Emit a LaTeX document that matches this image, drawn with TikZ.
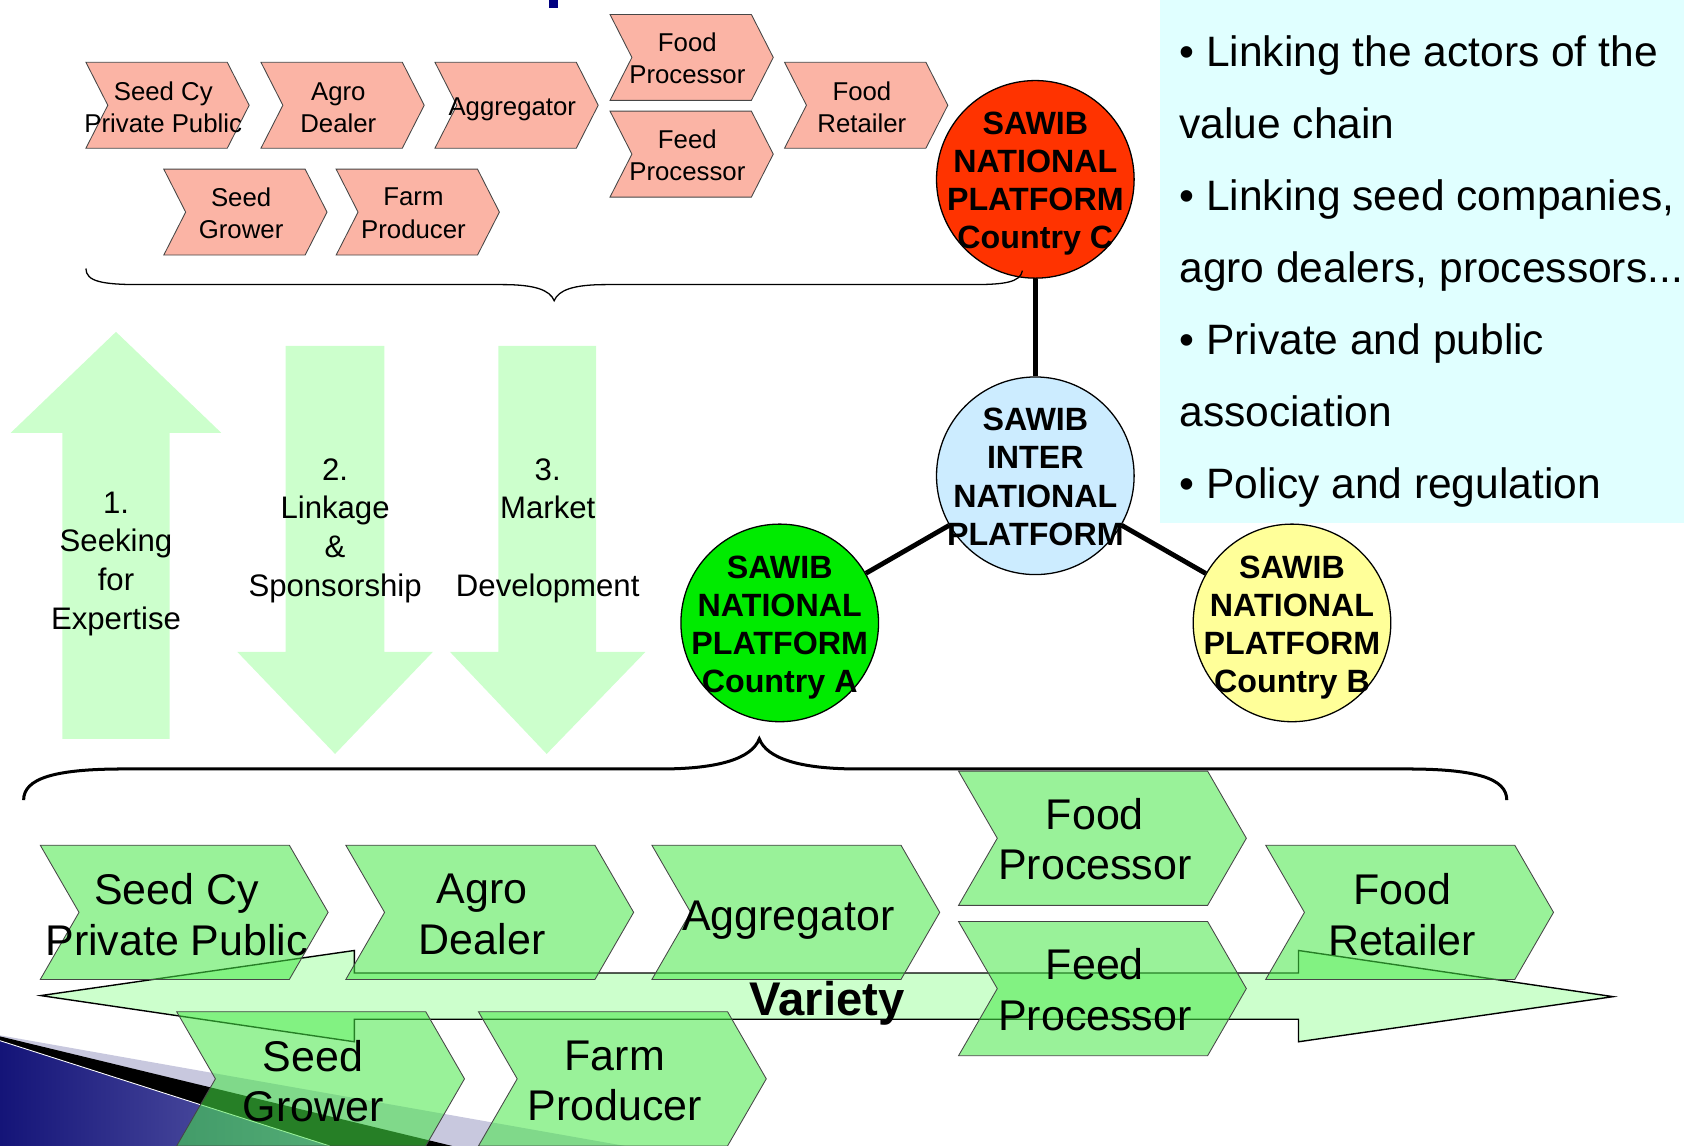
\documentclass[tikz,border=0pt]{standalone}
\usepackage{fontspec}
\setmainfont{Liberation Sans}
\usetikzlibrary{shapes.symbols}

\begin{document}
\begin{tikzpicture}[x=1pt,y=1pt,yscale=-1,
    chevtop/.style={shape=signal, signal from=west, signal to=east, signal pointer angle=126, minimum width=152, minimum height=80, inner sep=0pt, draw={rgb, 255:red, 70; green, 70; blue, 70}, line width=0.8, fill={rgb, 255:red, 251; green, 180; blue, 165}},
    chevbot/.style={chevtop, signal pointer angle=120, minimum width=268, minimum height=125, fill={rgb, 255:red, 70; green, 232; blue, 70}, fill opacity=0.55},
    toptxt/.style={align=center, inner sep=0pt, font=\fontsize{24}{30}\selectfont},
    bottxt/.style={align=center, inner sep=0pt, font=\fontsize{40}{47}\selectfont},
    platform/.style={circle, draw, line width=1.2, minimum size=184, inner sep=0pt},
    plattxt/.style={align=center, inner sep=0pt, font=\fontsize{30}{35.5}\selectfont\bfseries},
    arrowtxt/.style={align=center, inner sep=0pt, font=\fontsize{29}{36}\selectfont},
    blockarrow/.style={fill={rgb, 255:red, 204; green, 255; blue, 204}},
    link/.style={line width=4.5},
  ]
  \useasboundingbox (0,0) rectangle (1568,1067);
  %Shape: Rectangle [title fragment]
  \fill[fill={rgb, 255:red, 0; green, 0; blue, 128}] (511,0) rectangle (520,7);
  %Shape: Rectangle [text panel]
  \fill[fill={rgb, 255:red, 224; green, 255; blue, 255}] (1080,0) rectangle (1568,487);
  \node[anchor=north west, align=left, inner sep=0pt, font=\fontsize{39.6}{67}\selectfont] (bullets) at (1098,33) {\textbullet\ Linking the actors of the\\value chain\\\textbullet\ Linking seed companies,\\agro dealers, processors...\\\textbullet\ Private and public\\association\\\textbullet\ Policy and regulation};

  %Shape: Polygon [corner swoosh]
  \fill[fill={rgb, 255:red, 200; green, 200; blue, 222}] (0,964) -- (582,1067) -- (0,1067) -- cycle;
  \fill[black] (0,965) -- (421,1067) -- (0,1067) -- cycle;
  \shade[left color={rgb, 255:red, 20; green, 20; blue, 120}, right color={rgb, 255:red, 100; green, 100; blue, 175}] (0,969) -- (307,1067) -- (0,1067) -- cycle;
  \draw[white, line width=0.8] (0,969) -- (307,1067);

  %Shape: Block Arrows
  \fill[blockarrow] (58,688) -- (58,403) -- (10,403) -- (108,309) -- (206,403) -- (158,403) -- (158,688) -- cycle;
  \fill[blockarrow] (266,322) -- (358,322) -- (358,607) -- (403,607) -- (312,702) -- (221,607) -- (266,607) -- cycle;
  \fill[blockarrow] (464,322) -- (555,322) -- (555,607) -- (601,607) -- (509,702) -- (419,607) -- (464,607) -- cycle;
  \node[arrowtxt] (expertise) at (108,525) {1.\\Seeking\\for\\Expertise};
  \node[arrowtxt] (linkage) at (312,494) {2.\\Linkage\\\&\\Sponsorship};
  \node[arrowtxt] (market) at (510,494) {3.\\Market\\\mbox{}\\Development};

  %Shape: Left Right Arrow [variety]
  \draw[blockarrow, line width=1.3] (38,927) -- (330,885) -- (330,906) -- (1209,906) -- (1209,885) -- (1502,928) -- (1209,970) -- (1209,949) -- (330,949) -- (330,970) -- cycle;

  %Shape: Chevrons [upper chain]
  \node[chevtop] (tSeedCy) at (156,98) {};
  \node[chevtop] (tAgro) at (319,98) {};
  \node[chevtop] (tAggr) at (481,98) {};
  \node[chevtop] (tFoodProc) at (644,53.5) {};
  \node[chevtop] (tFeedProc) at (644,143.5) {};
  \node[chevtop] (tRetail) at (806.5,98) {};
  \node[chevtop] (tGrower) at (228.5,197.5) {};
  \node[chevtop] (tFarm) at (389,197.5) {};
  \node[toptxt] (tSeedCyL) at ([xshift=-4pt,yshift=2pt]tSeedCy.center) {Seed Cy\\Private Public};
  \node[toptxt] (tAgroL) at ([xshift=-4pt,yshift=2pt]tAgro.center) {Agro\\Dealer};
  \node[toptxt] (tAggrL) at ([xshift=-4pt,yshift=4pt]tAggr.center) {Aggregator};
  \node[toptxt] (tFoodProcL) at ([xshift=-4pt,yshift=1pt]tFoodProc.center) {Food\\Processor};
  \node[toptxt] (tFeedProcL) at ([xshift=-4pt,yshift=1pt]tFeedProc.center) {Feed\\Processor};
  \node[toptxt] (tRetailL) at ([xshift=-4pt,yshift=2pt]tRetail.center) {Food\\Retailer};
  \node[toptxt] (tGrowerL) at ([xshift=-4pt,yshift=1pt]tGrower.center) {Seed\\Grower};
  \node[toptxt] (tFarmL) at ([xshift=-4pt,yshift=1pt]tFarm.center) {Farm\\Producer};

  %Shape: Chevrons [lower chain]
  \node[chevbot] (bSeedCy) at (171.5,849.5) {};
  \node[chevbot] (bAgro) at (456,849.5) {};
  \node[chevbot] (bAggr) at (741,849.5) {};
  \node[chevbot] (bFoodProc) at (1026.5,780.5) {};
  \node[chevbot] (bFeedProc) at (1026.5,920.5) {};
  \node[chevbot] (bRetail) at (1312.5,849.5) {};
  \node[chevbot] (bGrower) at (298.5,1004.5) {};
  \node[chevbot] (bFarm) at (579.5,1004.5) {};
  \node[bottxt] (bSeedCyL) at ([xshift=-7pt,yshift=2pt]bSeedCy.center) {Seed Cy\\Private Public};
  \node[bottxt] (bAgroL) at ([xshift=-7pt,yshift=2pt]bAgro.center) {Agro\\Dealer};
  \node[bottxt] (bAggrL) at ([xshift=-7pt,yshift=7pt]bAggr.center) {Aggregator};
  \node[bottxt] (bFoodProcL) at ([xshift=-7pt,yshift=1pt]bFoodProc.center) {Food\\Processor};
  \node[bottxt] (bFeedProcL) at ([xshift=-7pt,yshift=1pt]bFeedProc.center) {Feed\\Processor};
  \node[bottxt] (bRetailL) at ([xshift=-7pt,yshift=2pt]bRetail.center) {Food\\Retailer};
  \node[bottxt] (bGrowerL) at ([xshift=-7pt,yshift=2pt]bGrower.center) {Seed\\Grower};
  \node[bottxt] (bFarmL) at ([xshift=-7pt,yshift=2pt]bFarm.center) {Farm\\Producer};
  \node[inner sep=0pt, font=\fontsize{44}{50}\selectfont\bfseries] (variety) at (770,934.5) {Variety};

  %Shape: Circles [platforms]
  \node[platform, fill={rgb, 255:red, 255; green, 51; blue, 0}] (platC) at (964,167) {};
  \node[platform, fill={rgb, 255:red, 204; green, 236; blue, 255}] (platInter) at (964,443) {};
  \node[platform, fill={rgb, 255:red, 0; green, 235; blue, 0}] (platA) at (726,580) {};
  \node[platform, fill={rgb, 255:red, 255; green, 255; blue, 153}] (platB) at (1203,580) {};
  %Straight Lines
  \draw[link] (platC) -- (platInter);
  \draw[link] (platInter) -- (platA);
  \draw[link] (platInter) -- (platB);
  \node[plattxt] (platCL) at ([yshift=4pt]platC.center) {SAWIB\\NATIONAL\\PLATFORM\\Country C};
  \node[plattxt] (platInterL) at ([yshift=1pt]platInter.center) {SAWIB\\INTER\\NATIONAL\\PLATFORM};
  \node[plattxt] (platAL) at ([yshift=4.5pt]platA.center) {SAWIB\\NATIONAL\\PLATFORM\\Country A};
  \node[plattxt] (platBL) at ([yshift=4.5pt]platB.center) {SAWIB\\NATIONAL\\PLATFORM\\Country B};

  %Shape: Brace [upper]
  \draw[line width=1.2] (80,250) .. controls (80,262) and (95,265) .. (130,265) -- (468,265) .. controls (498,265) and (512,270) .. (516,280) .. controls (520,270) and (534,265) .. (564,265) -- (905,265) .. controls (935,265) and (950,263) .. (952,252);
  %Shape: Brace [lower]
  \draw[line width=2.8] (22,745) .. controls (22,725) and (50,716) .. (115,716) -- (615,716) .. controls (670,716) and (700,706) .. (707,688) .. controls (714,706) and (744,716) .. (799,716) -- (1310,716) .. controls (1375,716) and (1403,725) .. (1403,745);
\end{tikzpicture}
\end{document}
